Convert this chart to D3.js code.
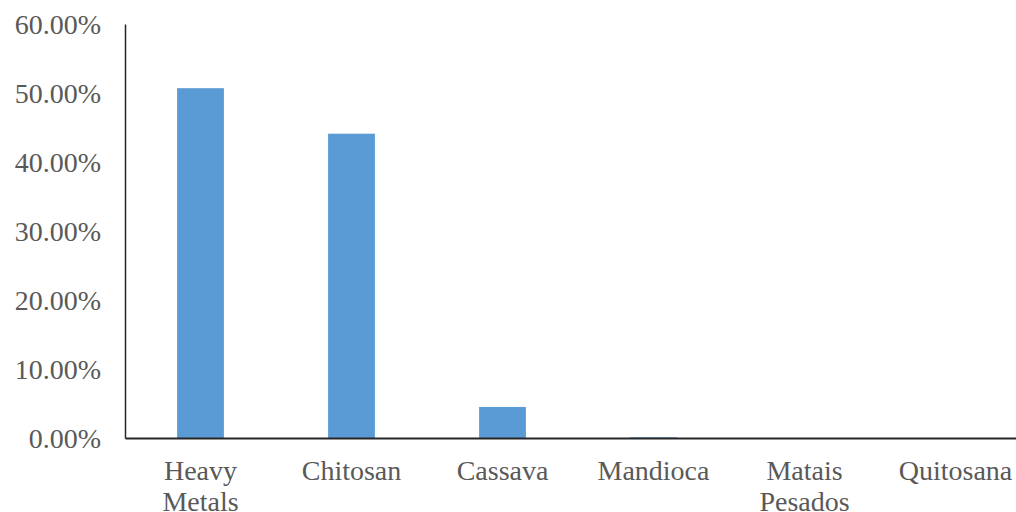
<!DOCTYPE html>
<html lang="en">
<head>
<meta charset="utf-8">
<title>Bar chart</title>
<script src="https://cdn.jsdelivr.net/npm/d3@7"></script>
<style>
  body { margin: 0; background: #fff; }
  .axis text { font-family: "Liberation Serif", "Times New Roman", serif; font-size: 28px; fill: #595959; }
</style>
</head>
<body>
<script>
// data
var categories = [["Heavy", "Metals"], ["Chitosan"], ["Cassava"], ["Mandioca"], ["Matais", "Pesados"], ["Quitosana"]];
var values = [0.507, 0.441, 0.045, 0.001, 0, 0];
var yTicks = [0, 0.1, 0.2, 0.3, 0.4, 0.5, 0.6];

var w = 1016, h = 512;
var plotLeft = 125, plotRight = 1031, plotTop = 24, plotBottom = 438;

var svg = d3.select("body").append("svg")
    .attr("width", w)
    .attr("height", h);

var x = d3.scaleBand()
    .domain(d3.range(categories.length))
    .range([plotLeft, plotRight])
    .paddingInner(0.69)
    .paddingOuter(0.345);

var y = d3.scaleLinear()
    .domain([0, 0.6])
    .range([plotBottom, plotTop]);

// bars
svg.append("g")
   .selectAll("rect")
   .data(values)
   .enter()
   .append("rect")
   .attr("x", function(d, i) { return x(i); })
   .attr("y", function(d) { return y(d); })
   .attr("width", x.bandwidth())
   .attr("height", function(d) { return plotBottom - y(d); })
   .attr("fill", "#5b9bd5");

// y axis
var yAxis = svg.append("g")
   .attr("class", "axis")
   .attr("transform", "translate(" + plotLeft + ",0)")
   .call(d3.axisLeft(y).tickValues(yTicks).tickSize(0).tickPadding(24)
         .tickFormat(function(d) { return (d * 100).toFixed(2) + "%"; }));
yAxis.select(".domain").attr("stroke", "#262626").attr("stroke-width", 1.5);
yAxis.selectAll("text").attr("dy", "0.35em");

// x axis
var xAxis = svg.append("g")
   .attr("class", "axis")
   .attr("transform", "translate(0," + plotBottom + ")")
   .call(d3.axisBottom(x).tickSize(0).tickFormat(""));
xAxis.select(".domain").attr("stroke", "#262626").attr("stroke-width", 2);

xAxis.selectAll(".tick").each(function(d) {
    var t = d3.select(this).append("text")
        .attr("text-anchor", "middle")
        .attr("y", 42);
    categories[d].forEach(function(line, k) {
        t.append("tspan").attr("x", 0).attr("dy", k === 0 ? 0 : 31).text(line);
    });
});
</script>
</body>
</html>
